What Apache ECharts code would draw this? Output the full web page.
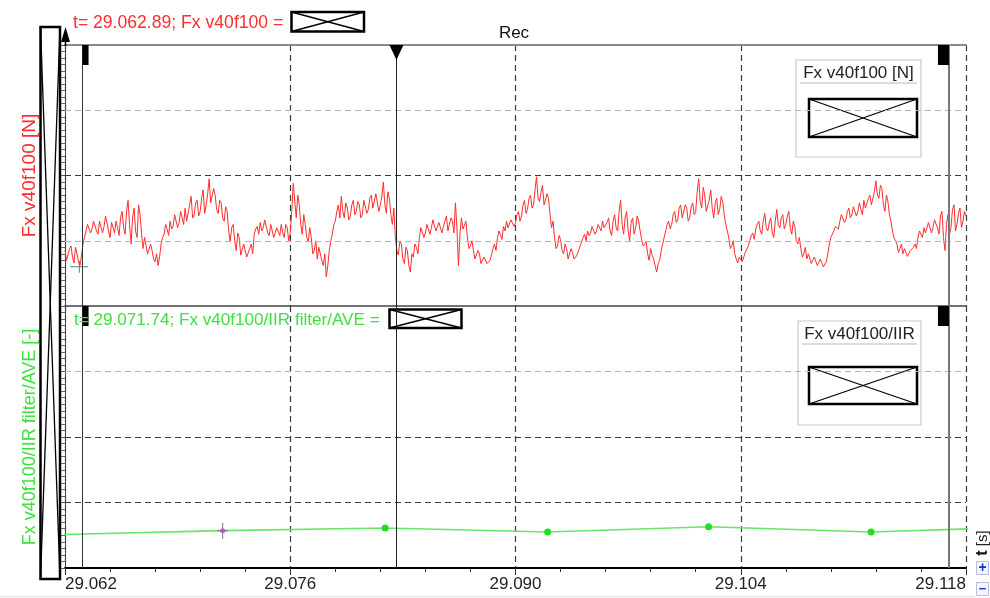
<!DOCTYPE html>
<html><head><meta charset="utf-8">
<script src="https://cdn.jsdelivr.net/npm/echarts@6/dist/echarts.min.js"></script>
<style>html,body{margin:0;padding:0;background:#fff}#c{width:990px;height:598px}</style>
</head><body><div id="c"></div>
<script>
// ---------- data ----------
const xTickValues = [29.062, 29.076, 29.090, 29.104, 29.118];
const xTickLabels = ['29.062', '29.076', '29.090', '29.104', '29.118'];
const yLevels = [0, 1, 2, 3, 4];           // hidden (redacted) value grid
const fxStart = 29.062;
const fxEnd = 29.118;
// samples read at the regular time steps
const fxValues = [
 0.85,0.72,0.92,0.66,0.80,0.62,0.95,1.15,1.28,1.18,
 1.32,1.10,1.28,1.22,1.35,1.05,1.25,1.30,1.08,1.45,
 1.10,1.62,0.95,1.50,1.05,1.40,0.88,0.92,0.78,0.85,
 0.68,0.62,0.95,1.10,1.18,1.30,1.22,1.38,1.28,1.35,
 1.50,1.32,1.68,1.40,1.62,1.45,1.78,1.55,1.95,1.60,
 1.70,1.42,1.58,1.30,1.45,0.98,1.25,0.85,1.05,0.80,
 0.92,0.72,0.95,1.10,1.22,1.28,1.20,1.30,1.08,1.22,
 1.02,1.18,1.25,1.05,1.20,1.12,1.88,1.35,1.55,1.10,
 1.25,0.98,1.05,0.85,0.72,0.88,0.62,0.45,0.85,1.10,
 1.30,1.55,1.68,1.35,1.50,1.38,1.62,1.45,1.55,1.40,
 1.60,1.48,1.70,1.52,1.75,1.55,1.90,1.42,1.65,1.25,
 1.05,0.78,0.95,0.65,0.85,0.52,0.75,0.90,1.05,1.18,
 1.12,1.28,1.20,1.35,1.15,1.30,1.22,1.38,1.18,1.30,
 1.58,0.62,1.35,1.20,1.05,0.92,0.85,0.72,0.80,0.66,
 0.72,0.62,0.78,0.95,1.05,1.12,1.22,1.30,1.20,1.35,
 1.28,1.45,1.38,1.62,1.48,1.70,1.55,1.98,1.60,1.85,
 1.55,1.65,1.20,1.05,0.92,1.02,0.80,0.88,0.75,0.82,
 0.70,0.85,0.98,1.10,1.15,1.12,1.20,1.15,1.22,1.30,
 1.18,1.35,1.08,1.40,1.15,1.62,1.10,1.45,1.00,1.35,
 1.20,1.30,1.02,0.90,0.80,0.88,0.72,0.52,0.70,0.95,
 1.15,1.30,1.25,1.45,1.32,1.55,1.38,1.50,1.35,1.58,
 1.45,1.95,1.50,1.70,1.42,1.78,1.35,1.65,1.48,1.60,
 1.25,1.05,0.92,0.80,0.66,0.78,0.70,0.85,1.00,1.12,
 1.18,1.30,1.10,1.42,1.15,1.35,1.05,1.48,1.20,1.40,
 1.25,1.45,1.10,1.22,0.95,0.88,0.80,0.72,0.78,0.68,
 0.75,0.65,0.70,0.58,0.80,1.05,1.15,1.25,1.30,1.38,
 1.32,1.50,1.40,1.55,1.45,1.48,1.62,1.52,1.70,1.58,
 1.92,1.65,1.80,1.45,1.60,1.30,1.05,0.95,0.88,0.80,
 0.85,0.75,0.82,0.95,1.05,1.12,1.20,1.15,1.25,1.20,
 1.35,1.10,1.45,0.85,1.40,1.20,1.55,1.25,1.50,1.30,
 1.38
];
// samples read half-way between the ones above
const fxValuesMid = [
 0.70,0.88,0.75,0.90,0.68,0.78,1.05,1.25,1.12,1.30,
 1.15,1.30,1.12,1.38,1.15,1.28,1.12,1.20,1.35,1.20,
 1.45,1.25,1.35,1.15,1.55,1.10,1.05,0.80,0.95,0.72,
 0.80,0.75,1.05,1.25,1.08,1.18,1.40,1.20,1.45,1.25,
 1.30,1.55,1.35,1.58,1.38,1.65,1.42,1.72,1.58,1.80,
 1.48,1.62,1.35,1.52,1.15,1.20,1.00,1.12,0.78,0.95,
 0.75,0.88,0.80,1.18,1.10,1.15,1.32,1.12,1.25,1.05,
 1.20,1.08,1.12,1.25,1.00,1.45,1.60,1.70,1.25,1.40,
 1.05,1.20,0.80,1.00,0.90,0.70,0.80,0.62,1.00,1.25,
 1.45,1.35,1.45,1.58,1.32,1.55,1.40,1.60,1.35,1.62,
 1.42,1.65,1.50,1.72,1.45,1.68,1.55,1.75,1.40,1.50,
 0.85,1.00,0.72,0.90,0.62,0.80,0.95,0.80,1.20,1.05,
 1.25,1.10,1.32,1.15,1.28,1.12,1.30,1.15,1.35,1.12,
 1.20,1.10,1.18,1.30,0.88,1.00,0.72,0.85,0.65,0.75,
 0.65,0.70,0.88,0.85,1.15,1.02,1.15,1.20,1.32,1.22,
 1.40,1.30,1.55,1.42,1.65,1.50,1.78,1.65,1.75,1.55,
 1.72,1.40,1.30,0.88,1.08,0.85,0.95,0.72,0.88,0.72,
 0.78,0.92,1.05,1.00,1.08,1.22,1.10,1.25,1.15,1.20,
 1.28,1.15,1.30,1.20,1.45,1.25,1.35,1.15,1.28,1.10,
 1.38,1.15,0.92,0.98,0.70,0.78,0.62,0.65,0.85,1.05,
 1.25,1.18,1.40,1.28,1.50,1.35,1.55,1.30,1.52,1.40,
 1.75,1.60,1.82,1.45,1.62,1.50,1.58,1.40,1.68,1.40,
 1.15,0.88,1.00,0.72,0.75,0.68,0.82,0.92,1.08,1.02,
 1.25,1.15,1.30,1.20,1.28,1.12,1.30,1.25,1.35,1.18,
 1.38,1.20,1.30,1.00,1.05,0.75,0.90,0.80,0.65,0.75,
 0.62,0.72,0.60,0.68,0.95,1.10,1.22,1.18,1.40,1.28,
 1.45,1.35,1.52,1.38,1.58,1.40,1.50,1.65,1.55,1.75,
 1.70,1.85,1.55,1.70,1.40,1.15,1.00,0.82,0.95,0.88,
 0.76,0.85,0.90,0.88,1.15,1.05,1.12,1.28,1.12,1.32,
 1.20,1.38,1.05,1.25,1.10,1.48,1.15,1.42,1.20,1.45
];
const iirTimes  = [29.0616, 29.0718, 29.0819, 29.0920, 29.1020, 29.1121, 29.1222];
const iirValues = [0.51, 0.57, 0.61, 0.55, 0.63, 0.55, 0.63];
const fxCursor  = [29.06289, 0.60];
const iirCursor = [29.0718, 0.57];
const markerTimes = [29.06306, 29.0826, 29.11694];
const topGridLevels = [1, 2, 3];
const bottomGridLevels = [1, 2, 3];

// ---------- build ----------
const FONT = '"Liberation Sans", Arial, sans-serif';
const RED = '#ff2d2d', GREEN = '#3fe03f';
const fxAll = [];
fxValues.forEach((v, i) => { fxAll.push(v); if (i < fxValuesMid.length) fxAll.push(fxValuesMid[i]); });
const fxData = fxAll.map((v, j) => [fxStart + j * (fxEnd - fxStart) / (fxAll.length - 1), v]);
const iirData = iirTimes.map((t, i) => t === iirCursor[0]
  ? { value: [t, iirValues[i]], symbol: 'none' } : [t, iirValues[i]]);
const yMin = yLevels[0], yMax = yLevels[yLevels.length - 1], yStep = yLevels[1] - yLevels[0];
const xMin = xTickValues[0], xMax = xTickValues[xTickValues.length - 1], xStep = xTickValues[1] - xTickValues[0];

const topGridColors = ['#b4b4b4', '#3a3a3a', '#b4b4b4'];
const bottomGridColors = ['#3a3a3a', '#3a3a3a', '#b4b4b4'];
const markerColors = ['#333', '#222', '#777'];
const markerWidths = [1, 1, 2];
const DASH = [6, 4];

function hLines(levels, colors) {
  return { silent: true, precision: 6, symbol: ['none', 'none'], label: { show: false }, emphasis: { disabled: true },
    data: levels.map((v, i) => ({ yAxis: v, lineStyle: { color: colors[i], width: 1.2, type: DASH } })) };
}
function vLines() {
  return { silent: true, precision: 8, symbol: ['none', 'none'], label: { show: false }, emphasis: { disabled: true },
    data: markerTimes.map((t, i) => ({ xAxis: t, lineStyle: { color: markerColors[i], width: markerWidths[i], type: 'solid' } })) };
}
function markers(withTriangle) {
  const d = [
    { coord: [markerTimes[0], yMax], symbol: 'rect', symbolSize: [6, 20], symbolOffset: [3.5, 10], itemStyle: { color: '#000' } },
    { coord: [markerTimes[2], yMax], symbol: 'rect', symbolSize: [11, 20], symbolOffset: [-5.5, 10], itemStyle: { color: '#000' } }
  ];
  if (withTriangle) d.push({ coord: [markerTimes[1], yMax], symbol: 'triangle', symbolRotate: 180, symbolSize: [14, 15], symbolOffset: [0, 7.5], itemStyle: { color: '#000' } });
  return { silent: true, label: { show: false }, emphasis: { disabled: true }, data: d };
}
function xBox(x, y, w, h) {
  return { type: 'group', z: 100, children: [
    { type: 'rect', shape: { x, y, width: w, height: h }, style: { fill: '#fff', stroke: '#000', lineWidth: 2.5 } },
    { type: 'line', shape: { x1: x, y1: y, x2: x + w, y2: y + h }, style: { stroke: '#000', lineWidth: 1.3 } },
    { type: 'line', shape: { x1: x + w, y1: y, x2: x, y2: y + h }, style: { stroke: '#000', lineWidth: 1.3 } }
  ] };
}
function legendBox(x, y, w, h, title, bx, by, bw, bh) {
  return { type: 'group', z: 100, children: [
    { type: 'rect', shape: { x, y, width: w, height: h }, style: { fill: '#fff', stroke: '#c8c8c8', lineWidth: 1.2 } },
    { type: 'text', x: x + w / 2, y: y + 13, style: { text: title, fill: '#222', font: '17px ' + FONT, align: 'center', verticalAlign: 'middle' } },
    { type: 'line', shape: { x1: x + 4, y1: y + 23, x2: x + w - 4, y2: y + 23 }, style: { stroke: '#cdd0d8', lineWidth: 1.5 } },
    xBox(bx, by, bw, bh)
  ] };
}

const xAxisCommon = { type: 'value', min: xMin, max: xMax, interval: xStep };
const yAxisCommon = {
  type: 'value', min: yMin, max: yMax, interval: yStep,
  axisLine: { show: true, lineStyle: { color: '#444', width: 1 } },
  axisTick: { show: true, length: 4, lineStyle: { color: '#555' } },
  minorTick: { show: true, splitNumber: 10, length: 4, lineStyle: { color: '#666' } },
  axisLabel: { show: false }, splitLine: { show: false },
  nameLocation: 'middle', nameGap: 26, nameRotate: 90
};

const option = {
  animation: false,
  backgroundColor: '#fff',
  grid: [
    { left: 65, right: 24, top: 45, height: 261, outerBoundsMode: 'none', containLabel: false },
    { left: 65, right: 24, top: 306, height: 262, outerBoundsMode: 'none', containLabel: false }
  ],
  xAxis: [
    Object.assign({}, xAxisCommon, { gridIndex: 0, position: 'bottom',
      axisLine: { show: true, lineStyle: { color: '#444', width: 1.5 } }, axisTick: { show: false }, axisLabel: { show: false },
      splitLine: { show: true, lineStyle: { color: '#3a3a3a', width: 1.2, type: DASH } } }),
    Object.assign({}, xAxisCommon, { gridIndex: 0, position: 'top',
      axisLine: { show: true, lineStyle: { color: '#8a8a8a', width: 2 } }, axisTick: { show: false }, axisLabel: { show: false },
      splitLine: { show: false } }),
    Object.assign({}, xAxisCommon, { gridIndex: 1, position: 'bottom',
      axisLine: { show: true, lineStyle: { color: '#000', width: 2 } },
      axisTick: { show: true, length: 7, lineStyle: { color: '#333' } },
      minorTick: { show: true, splitNumber: 5, length: 4, lineStyle: { color: '#333' } },
      axisLabel: { show: true, color: '#222', fontSize: 17, fontFamily: FONT, margin: 8,
        alignMinLabel: 'left', alignMaxLabel: 'right',
        formatter: v => { const k = xTickValues.findIndex(t => Math.abs(t - v) < 1e-7); return k >= 0 ? xTickLabels[k] : ''; } },
      splitLine: { show: true, lineStyle: { color: '#3a3a3a', width: 1.2, type: DASH } } })
  ],
  yAxis: [
    Object.assign({}, yAxisCommon, { gridIndex: 0, name: 'Fx v40f100 [N]',
      nameTextStyle: { color: RED, fontSize: 19, fontFamily: FONT } }),
    Object.assign({}, yAxisCommon, { gridIndex: 1, name: 'Fx v40f100/IIR filter/AVE [-]',
      nameTextStyle: { color: GREEN, fontSize: 18, fontFamily: FONT } })
  ],
  series: [
    { type: 'line', xAxisIndex: 0, yAxisIndex: 0, data: [], z: 1, markLine: hLines(topGridLevels, topGridColors) },
    { type: 'line', xAxisIndex: 2, yAxisIndex: 1, data: [], z: 1, markLine: hLines(bottomGridLevels, bottomGridColors) },
    { name: 'Fx v40f100', type: 'line', xAxisIndex: 0, yAxisIndex: 0, data: fxData, z: 3,
      showSymbol: false, lineStyle: { color: RED, width: 1 }, itemStyle: { color: RED },
      markLine: vLines(), markPoint: markers(true) },
    { name: 'Fx v40f100/IIR', type: 'line', xAxisIndex: 2, yAxisIndex: 1, data: iirData, z: 3,
      symbol: 'circle', symbolSize: 7, showSymbol: true,
      lineStyle: { color: '#66e866', width: 1.6 }, itemStyle: { color: '#22dd22' },
      markLine: vLines(), markPoint: markers(false) },
    { type: 'scatter', xAxisIndex: 0, yAxisIndex: 0, data: [fxCursor], z: 5, silent: true,
      symbol: 'path://M0,5.5H18V6.5H0Z M8.5,0H9.5V12H8.5Z', symbolSize: [18, 12], itemStyle: { color: '#2f5f60' } },
    { type: 'scatter', xAxisIndex: 2, yAxisIndex: 1, data: [iirCursor], z: 5, silent: true,
      symbol: 'path://M0,7.5H10V8.5H0Z M4.5,0H5.5V16H4.5Z', symbolSize: [10, 16], itemStyle: { color: '#555' } },
    { type: 'scatter', xAxisIndex: 2, yAxisIndex: 1, data: [iirCursor], z: 6, silent: true,
      symbol: 'circle', symbolSize: 5, itemStyle: { color: '#d040d0' } }
  ],
  graphic: [
    xBox(40.5, 27, 19.5, 552),
    { type: 'polygon', z: 100, shape: { points: [[65.5, 27], [61, 42], [70, 42]] }, style: { fill: '#000' } },
    { type: 'line', z: 100, shape: { x1: 65.5, y1: 42, x2: 65.5, y2: 46 }, style: { stroke: '#000', lineWidth: 1.5 } },
    { type: 'text', z: 100, x: 73, y: 23, style: { text: 't= 29.062.89; Fx v40f100 =', fill: RED, font: '17.6px ' + FONT, align: 'left', verticalAlign: 'middle' } },
    xBox(291.5, 12, 72.5, 19.5),
    { type: 'text', z: 100, x: 514, y: 33, style: { text: 'Rec', fill: '#111', font: '17px ' + FONT, align: 'center', verticalAlign: 'middle' } },
    { type: 'text', z: 100, x: 74, y: 320, style: { text: 't= 29.071.74; Fx v40f100/IIR filter/AVE =', fill: GREEN, font: '17.1px ' + FONT, align: 'left', verticalAlign: 'middle' } },
    xBox(389.5, 309.5, 72, 18.5),
    legendBox(796, 60, 125, 97, 'Fx v40f100 [N]', 809, 99, 108, 38),
    legendBox(798, 321, 123, 104, 'Fx v40f100/IIR', 809, 367, 108, 37),
    { type: 'text', z: 100, x: 983, y: 543, rotation: Math.PI / 2,
      style: { text: '{b|t} [s]', fill: '#222', font: '15px ' + FONT, align: 'center', verticalAlign: 'middle',
        rich: { b: { fontWeight: 'bold', fontSize: 16, fontFamily: FONT, fill: '#111' } } } },
    { type: 'rect', z: 100, shape: { x: 976.5, y: 561.5, width: 12, height: 13 }, style: { fill: '#f4f6ff', stroke: '#b8bfd8', lineWidth: 1 } },
    { type: 'text', z: 101, x: 982.5, y: 568, style: { text: '+', fill: '#1030d0', font: 'bold 14px ' + FONT, align: 'center', verticalAlign: 'middle' } },
    { type: 'rect', z: 100, shape: { x: 976.5, y: 582.5, width: 12, height: 13 }, style: { fill: '#f4f6ff', stroke: '#b8bfd8', lineWidth: 1 } },
    { type: 'text', z: 101, x: 982.5, y: 589, style: { text: '\u2212', fill: '#1030d0', font: 'bold 13px ' + FONT, align: 'center', verticalAlign: 'middle' } },
    { type: 'line', z: 90, shape: { x1: 0, y1: 596.5, x2: 975, y2: 596.5 }, style: { stroke: '#e2e2e2', lineWidth: 1.5 } }
  ]
};
const chart = echarts.init(document.getElementById('c'));
chart.setOption(option);
</script>
</body></html>
